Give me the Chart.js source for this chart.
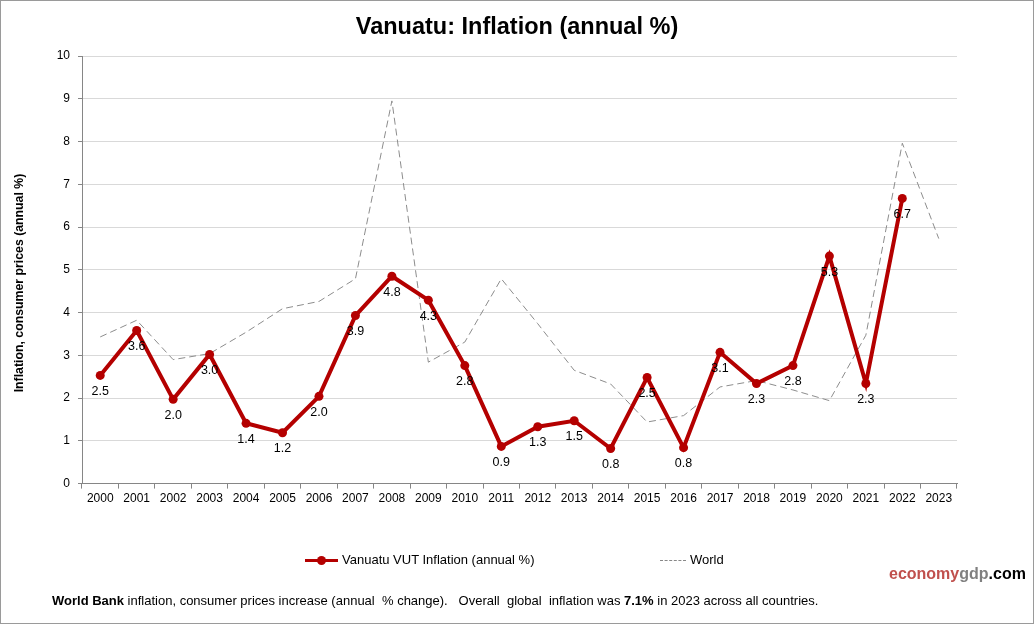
<!DOCTYPE html>
<html>
<head>
<meta charset="utf-8">
<script src="https://cdn.jsdelivr.net/npm/chart.js@4.4.0/dist/chart.umd.min.js"></script>
<style>
  body { margin: 0; background: #fff; }
  #wrap { position: relative; width: 1034px; height: 624px; }
  #frame { position: absolute; left: 0; top: 0; width: 1034px; height: 624px; box-sizing: border-box; border: 1px solid #9a9a9a; pointer-events: none; }
  .txt { position: absolute; font-family: "Liberation Sans", Arial, sans-serif; font-size: 13px; color: #000; white-space: nowrap; }
  .brand { font-size: 16px; font-weight: bold; }
  #title { position: absolute; left: 0; width: 1034px; top: 13px; text-align: center; font-family: "Liberation Sans", Arial, sans-serif; font-size: 23.5px; font-weight: bold; }
  #ytitle { position: absolute; left: 19px; top: 283px; transform: translate(-50%, -50%) rotate(-90deg); font-family: "Liberation Sans", Arial, sans-serif; font-size: 12.3px; font-weight: bold; white-space: nowrap; }
</style>
</head>
<body>
<div id="wrap">
  <canvas id="lineChart" width="1034" height="624"></canvas>
  <div id="frame"></div>
  <div id="title">Vanuatu: Inflation (annual %)</div>
  <div id="ytitle">Inflation, consumer prices (annual %)</div>
  <!-- legend -->
  <div style="position:absolute;left:305px;top:559px;width:33px;height:3px;background:#b40000;"></div>
  <div style="position:absolute;left:317px;top:556px;width:9px;height:9px;border-radius:50%;background:#b40000;"></div>
  <div class="txt" style="left:342px;top:552px;">Vanuatu VUT Inflation (annual %)</div>
  <div style="position:absolute;left:660px;top:560px;width:26px;border-top:1px dashed #888;"></div>
  <div class="txt" style="left:690px;top:552px;">World</div>
  <div class="txt brand" style="left:889px;top:565px;"><span style="color:#c0504d">economy</span><span style="color:#808080">gdp</span>.com</div>
  <div class="txt" style="left:52px;top:593px;"><b>World Bank</b> inflation, consumer prices increase (annual&nbsp; % change).&nbsp;&nbsp; Overall&nbsp; global&nbsp; inflation was <b>7.1%</b> in 2023 across all countries.</div>
</div>
<script>
var years = ["2000","2001","2002","2003","2004","2005","2006","2007","2008","2009","2010","2011",
             "2012","2013","2014","2015","2016","2017","2018","2019","2020","2021","2022","2023"];
var vanuatu = [2.53, 3.58, 1.97, 3.02, 1.41, 1.19, 2.04, 3.93, 4.85, 4.29, 2.76, 0.87,
               1.33, 1.47, 0.82, 2.48, 0.84, 3.07, 2.34, 2.76, 5.32, 2.34, 6.67, null];
var world = [3.43, 3.82, 2.90, 3.04, 3.54, 4.09, 4.26, 4.79, 8.95, 2.84, 3.31, 4.79,
             3.74, 2.65, 2.33, 1.44, 1.59, 2.26, 2.41, 2.19, 1.94, 3.47, 7.96, 5.73];

var fontFam = "'Liberation Sans', Arial, sans-serif";

// value labels under the Vanuatu points
var valueLabels = {
  id: "valueLabels",
  afterDatasetsDraw: function(chart) {
    var ctx = chart.ctx;
    var meta = chart.getDatasetMeta(0);
    ctx.save();
    ctx.font = "12.5px " + fontFam;
    ctx.fillStyle = "#000";
    ctx.textAlign = "center";
    ctx.textBaseline = "middle";
    meta.data.forEach(function(pt, i) {
      var v = vanuatu[i];
      if (v === null) return;
      ctx.fillText(v.toFixed(1), pt.x, pt.y + 16);
    });
    ctx.restore();
  }
};

var lineChart = document.getElementById("lineChart").getContext("2d");
var myLineChart = new Chart(lineChart, {
  type: "line",
  data: {
    labels: years,
    datasets: [
      {
        label: "Vanuatu VUT Inflation (annual %)",
        data: vanuatu,
        borderColor: "#b40000",
        backgroundColor: "#b40000",
        borderWidth: 4,
        pointRadius: 4.5,
        pointBorderWidth: 0,
        tension: 0
      },
      {
        label: "World",
        data: world,
        borderColor: "#8c8c8c",
        borderWidth: 1,
        borderDash: [7, 4],
        pointRadius: 0,
        tension: 0
      }
    ]
  },
  options: {
    responsive: false,
    animation: false,
    layout: { padding: { top: 56, left: 8, right: 77, bottom: 115 } },
    plugins: {
      legend: { display: false },
      tooltip: { enabled: false },
      title: { display: false }
    },
    scales: {
      x: {
        offset: true,
        grid: { display: true, drawOnChartArea: false, drawTicks: true, tickLength: 5, offset: true, color: "#868686" },
        border: { color: "#868686" },
        ticks: { color: "#000", font: { family: fontFam, size: 12 }, padding: 3, maxRotation: 0, autoSkip: false }
      },
      y: {
        min: 0,
        max: 10,
        ticks: { stepSize: 1, color: "#000", font: { family: fontFam, size: 12 }, padding: 8 },
        grid: { color: "#d9d9d9", tickLength: 4, tickColor: "#868686" },
        border: { color: "#868686" },
        afterFit: function(scale) { scale.width = 74; }
      }
    }
  },
  plugins: [valueLabels]
});
</script>
</body>
</html>
